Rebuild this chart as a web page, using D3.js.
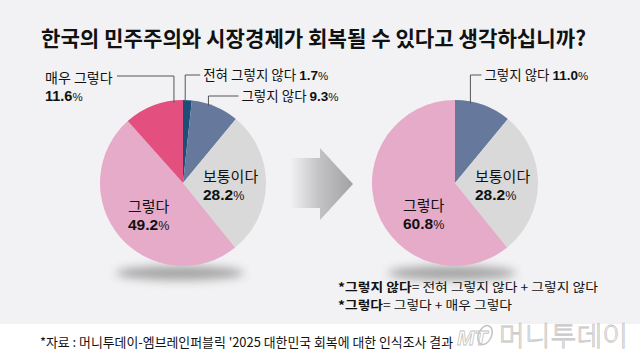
<!DOCTYPE html>
<html><head><meta charset="utf-8">
<script src="https://cdn.jsdelivr.net/npm/d3@7"></script>
<style>
html,body{margin:0;padding:0;background:#fff;}
svg{display:block;font-family:"Noto Sans CJK KR","Noto Sans",sans-serif;}
</style></head>
<body><svg id="c" width="640" height="356"></svg>
<script>
// ---- data ----
const title = "한국의 민주주의와 시장경제가 회복될 수 있다고 생각하십니까?";
const beforeCategories = ["전혀 그렇지 않다", "그렇지 않다", "보통이다", "그렇다", "매우 그렇다"];
const beforeValues = [1.7, 9.3, 28.2, 49.2, 11.6];
const afterCategories = ["그렇지 않다", "보통이다", "그렇다"];
const afterValues = [11.0, 28.2, 60.8];
const notes = [["*그렇지 않다", "= 전혀 그렇지 않다 + 그렇지 않다"], ["*그렇다", "= 그렇다 + 매우 그렇다"]];
const source = "*자료 : 머니투데이-엠브레인퍼블릭 '2025 대한민국 회복에 대한 인식조사 결과";

// ---- style ----
const colorMap = {
  "전혀 그렇지 않다": "#1d4e78",
  "그렇지 않다": "#67789d",
  "보통이다": "#d9d9d9",
  "그렇다": "#e5abc9",
  "매우 그렇다": "#e3507f"
};
const NUMFONT = "'Liberation Sans', Arial, sans-serif";
const R = 83, CY = 183;
const svg = d3.select("#c");
const defs = svg.append("defs");

svg.append("rect").attr("x",0).attr("y",0).attr("width",640).attr("height",324).attr("fill","#f2f2f4");

// title
svg.append("text").attr("x",41).attr("y",46).attr("font-size",21).attr("font-weight",700)
  .attr("fill","#111").attr("textLength",545).attr("lengthAdjust","spacingAndGlyphs").text(title);

// shadow filter
const f = defs.append("filter").attr("id","blur").attr("x","-50%").attr("y","-100%").attr("width","200%").attr("height","300%");
f.append("feGaussianBlur").attr("stdDeviation",5);

// arrow gradient
const g = defs.append("linearGradient").attr("id","arrowGrad").attr("x1","0").attr("x2","1").attr("y1","0").attr("y2","0");
g.append("stop").attr("offset","0").attr("stop-color","#f2f2f4");
g.append("stop").attr("offset","0.45").attr("stop-color","#c4c4c6");
g.append("stop").attr("offset","1").attr("stop-color","#a2a2a4");

const pie = d3.pie().sort(null).value(d => d.v);
const arc = d3.arc().innerRadius(0).outerRadius(R);

function valueText(x, y, v, size) {
  const t = svg.append("text").attr("x",x).attr("y",y).attr("font-family",NUMFONT).attr("fill","#111");
  t.append("tspan").attr("font-weight",700).attr("font-size",size).text(v.toFixed(1));
  t.append("tspan").attr("font-size",size-3).text("%");
  return t;
}

function drawPie(cx, cats, vals, inner, leaders) {
  const data = cats.map((c,i)=>({c, v: vals[i]}));
  svg.append("ellipse").attr("cx",cx-3).attr("cy",CY+90).attr("rx",64).attr("ry",7)
    .attr("fill","#8a8a8a").attr("opacity",0.75).attr("filter","url(#blur)");
  const gp = svg.append("g").attr("transform",`translate(${cx},${CY})`);
  const arcs = pie(data);
  gp.selectAll("path").data(arcs).join("path").attr("d",arc).attr("fill",d=>colorMap[d.data.c]);

  // inside labels
  inner.forEach(lb => {
    const a = arcs.find(d=>d.data.c===lb.cat);
    svg.append("text").attr("x",cx+lb.dx).attr("y",CY+lb.dy).attr("font-size",15).attr("fill","#111").text(a.data.c);
    valueText(cx+lb.dx, CY+lb.dy+18, a.data.v, 15.5);
  });

  // leader labels
  leaders.forEach(lb => {
    const a = arcs.find(d=>d.data.c===lb.cat);
    const ang = a.startAngle + (a.endAngle - a.startAngle) * lb.frac;
    const px = cx + R*Math.sin(ang), py = CY - R*Math.cos(ang) + 2;
    svg.append("path").attr("d",`M${px},${py}V${lb.ly}H${px+lb.hx}`)
      .attr("fill","none").attr("stroke","#555").attr("stroke-width",1);
    const tx = px + lb.hx + 3;
    if (lb.twoLine) {
      svg.append("text").attr("x",45).attr("y",83).attr("font-size",14).attr("fill","#111").text(a.data.c);
      valueText(45, 101, a.data.v, 14.5);
    } else {
      const t = svg.append("text").attr("x",tx).attr("y",lb.ly+5).attr("font-size",13.5).attr("fill","#111");
      t.append("tspan").text(a.data.c + " ");
      t.append("tspan").attr("font-family",NUMFONT).attr("font-weight",700).attr("font-size",13.5).text(a.data.v.toFixed(1));
      t.append("tspan").attr("font-family",NUMFONT).attr("font-size",11.5).text("%");
    }
  });
}

drawPie(183, beforeCategories, beforeValues,
  [{cat:"보통이다",dx:20,dy:-1},{cat:"그렇다",dx:-55,dy:29}],
  [{cat:"전혀 그렇지 않다",frac:0.25,ly:75,hx:15},
   {cat:"그렇지 않다",frac:0.35,ly:96,hx:30},
   {cat:"매우 그렇다",frac:0.85,ly:76,hx:-57,twoLine:true}]);

drawPie(455, afterCategories, afterValues,
  [{cat:"보통이다",dx:20,dy:-1},{cat:"그렇다",dx:-52,dy:28}],
  [{cat:"그렇지 않다",frac:0.27,ly:75,hx:11}]);

// arrow
svg.append("path").attr("d","M290,158H320V148L353,184L320,220V208H290Z").attr("fill","url(#arrowGrad)");

// notes
const noteWidths = [260, 174];
notes.forEach((n,i)=>{
  const t = svg.append("text").attr("x",338).attr("y",291.5+i*18.4).attr("font-size",12.5).attr("fill","#111")
    .attr("textLength",noteWidths[i]).attr("lengthAdjust","spacingAndGlyphs");
  t.append("tspan").attr("font-weight",700).text(n[0]);
  t.append("tspan").text(n[1]);
});

// source
svg.append("text").attr("x",40).attr("y",347).attr("font-size",13).attr("fill","#111")
  .attr("textLength",413).attr("lengthAdjust","spacingAndGlyphs").text(source);

// watermark
const wm = svg.append("g").attr("fill","#fff").attr("stroke","#c4c4c4").attr("stroke-width",0.8);
wm.append("text").attr("x",457).attr("y",345).attr("font-size",21).attr("font-style","italic").attr("font-family","Liberation Sans").attr("font-weight",700).text("MT");
wm.append("ellipse").attr("cx",485).attr("cy",335).attr("rx",6.5).attr("ry",10).attr("transform","rotate(25,485,335)").attr("fill","none").attr("stroke-width",1.6);
wm.append("text").attr("x",499).attr("y",346).attr("font-size",27).attr("font-weight",300).attr("textLength",129).attr("lengthAdjust","spacingAndGlyphs").text("머니투데이");
</script></body></html>
